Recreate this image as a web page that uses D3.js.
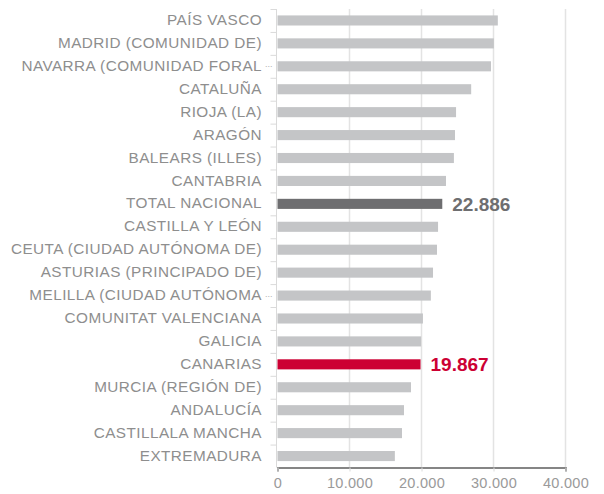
<!DOCTYPE html>
<html>
<head>
<meta charset="utf-8">
<script src="https://cdn.jsdelivr.net/npm/d3@7"></script>
<style>
  body { margin: 0; background: #fff; }
  text { font-family: "Liberation Sans", Arial, sans-serif; }
</style>
</head>
<body>
<div id="chart"></div>
<script>
(function() {

    var regions = ["PAÍS VASCO", "MADRID (COMUNIDAD DE)", "NAVARRA (COMUNIDAD FORAL", "CATALUÑA",
        "RIOJA (LA)", "ARAGÓN", "BALEARS (ILLES)", "CANTABRIA", "TOTAL NACIONAL",
        "CASTILLA Y LEÓN", "CEUTA (CIUDAD AUTÓNOMA DE)", "ASTURIAS (PRINCIPADO DE)",
        "MELILLA (CIUDAD AUTÓNOMA", "COMUNITAT VALENCIANA", "GALICIA", "CANARIAS",
        "MURCIA (REGIÓN DE)", "ANDALUCÍA", "CASTILLALA MANCHA", "EXTREMADURA"]

    var values = [30600, 30050, 29650, 26900, 24800, 24650, 24500, 23400, 22886,
        22300, 22150, 21600, 21300, 20200, 19950, 19867, 18540, 17570, 17290, 16300]

    // labels that were cut short in the original
    var truncated = ["NAVARRA (COMUNIDAD FORAL", "MELILLA (CIUDAD AUTÓNOMA"]

    var highlights = { "TOTAL NACIONAL": "#6e6e70", "CANARIAS": "#cc0033" }

    var xTicks = [0, 10000, 20000, 30000, 40000]

    var width = 604,
        height = 494

    var margin = { top: 9, left: 277.5, right: 38.5, bottom: 26.5 }

    var svg = d3.select("#chart")
        .append("svg")
        .attr("width", width)
        .attr("height", height)

    var x = d3.scaleLinear().domain([0, 40000]).range([margin.left, width - margin.right])

    var y = d3.scaleBand().domain(regions)
        .range([margin.top, height - margin.bottom])
        .paddingInner(0.56).paddingOuter(0.28)

    var band = d3.scaleBand().domain(regions).range([margin.top, height - margin.bottom])

    var fmt = function(v) { return d3.format(",")(v).replace(/,/g, ".") }

    // vertical gridlines
    svg.selectAll(".grid")
        .data(xTicks.slice(1))
        .enter().append("line")
        .attr("x1", function(d) { return x(d) })
        .attr("x2", function(d) { return x(d) })
        .attr("y1", margin.top)
        .attr("y2", height - margin.bottom)
        .attr("stroke", "#e3e3e3")
        .attr("stroke-width", 1.5)

    // y axis line and category ticks
    svg.append("line")
        .attr("x1", margin.left - 1).attr("x2", margin.left - 1)
        .attr("y1", margin.top).attr("y2", height - margin.bottom)
        .attr("stroke", "#dadada")

    svg.selectAll(".ytick")
        .data(regions)
        .enter().append("line")
        .attr("x1", margin.left - 7).attr("x2", margin.left - 1)
        .attr("y1", function(d) { return band(d) + 0.5 })
        .attr("y2", function(d) { return band(d) + 0.5 })
        .attr("stroke", "#dadada")

    // bars
    svg.selectAll(".bar")
        .data(regions)
        .enter().append("rect")
        .attr("x", x(0))
        .attr("y", function(d) { return y(d) })
        .attr("height", y.bandwidth())
        .attr("width", function(d, i) { return x(values[i]) - x(0) })
        .attr("fill", function(d) { return highlights[d] || "#c4c5c7" })

    // category labels
    svg.selectAll(".label")
        .data(regions)
        .enter().append("text")
        .attr("x", 262)
        .attr("y", function(d) { return y(d) + y.bandwidth() / 2 })
        .attr("dy", "0.3em")
        .attr("text-anchor", "end")
        .attr("font-size", 15.3)
        .attr("letter-spacing", 0.45)
        .attr("fill", "#8e8e8e")
        .text(function(d) { return d })

    svg.selectAll(".dots")
        .data(truncated)
        .enter().append("text")
        .attr("x", 265)
        .attr("y", function(d) { return y(d) + y.bandwidth() / 2 + 1 })
        .attr("font-size", 9)
        .attr("fill", "#b0b0b0")
        .text("...")

    // value labels for highlighted bars
    svg.selectAll(".value")
        .data(regions.filter(function(d) { return highlights[d] }))
        .enter().append("text")
        .attr("x", function(d) { return x(values[regions.indexOf(d)]) + 10 })
        .attr("y", function(d) { return y(d) + y.bandwidth() / 2 })
        .attr("dy", "0.36em")
        .attr("font-size", 19)
        .attr("font-weight", "bold")
        .attr("fill", function(d) { return highlights[d] })
        .text(function(d) { return fmt(values[regions.indexOf(d)]) })

    // x axis
    var xAxis = svg.append("g")
        .attr("transform", "translate(0," + (height - margin.bottom) + ")")
        .call(d3.axisBottom(x).tickValues(xTicks).tickFormat(fmt).tickSize(4).tickPadding(6))

    xAxis.select(".domain").attr("stroke", "#858585").attr("stroke-width", 2)
    xAxis.selectAll(".tick line").attr("stroke", "#dadada")
    xAxis.selectAll(".tick text")
        .attr("font-size", 14.5)
        .attr("letter-spacing", 0.3)
        .attr("font-family", "Liberation Sans, Arial, sans-serif")
        .attr("fill", "#9a9a9a")

})();
</script>
</body>
</html>
